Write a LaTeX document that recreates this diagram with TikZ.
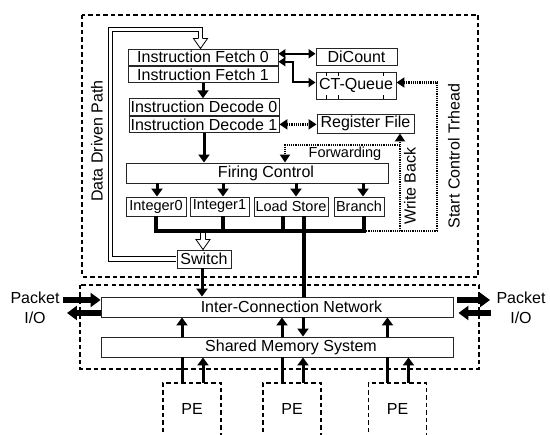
\documentclass[tikz,border=0pt]{standalone}
\usepackage{fontspec}
\setmainfont{Liberation Sans}
\usetikzlibrary{arrows.meta, positioning, calc}

\begin{document}
\begin{tikzpicture}[x=1pt, y=-1pt,
            every node/.style={font=\fontsize{16}{19}\selectfont},
            bloco/.style={draw=black!85, line width=0.9pt, fill=white, inner sep=0pt},
            unidade/.style={bloco, minimum height=19pt, font=\fontsize{14.5}{17}\selectfont},
            seta/.style={line width=3pt, -{Triangle[width=11pt,length=8pt]}},
            setafina/.style={line width=2pt, {Triangle[width=9pt,length=7pt]}-{Triangle[width=9pt,length=7pt]}},
            barra/.style={line width=3.5pt},
            gorda/.style={line width=6pt, -{Triangle[width=14pt,length=10pt]}},
            pontos/.style={line width=2.6pt, dash pattern=on 1.2pt off 1pt},
            pontoseta/.style={pontos, -{Triangle[width=10pt,length=8pt]}},
            tracejado/.style={line width=1.5pt, dash pattern=on 4.5pt off 3pt},
            duplo/.style={double, double distance=3.6pt, line width=0.8pt},
            ponta/.pic={
                \fill[white] (-7,-10) -- (0,0) -- (7,-10) -- cycle;
                \draw[line width=0.8pt, line join=miter] (-2.6,-10) -- (-7,-10) -- (0,0) -- (7,-10) -- (2.6,-10);
            }
        ]
            \useasboundingbox (0,0) rectangle (550,435);

            % Moldura do PE e do sistema compartilhado
            \draw[tracejado] (82,15) rectangle (478,277);
            \draw[tracejado] (80,285) rectangle (479,369);

            % Pipeline
            \node[bloco, minimum width=150pt, minimum height=16.5pt] (if0) at (203,57.25) {Instruction Fetch 0};
            \node[bloco, minimum width=150pt, minimum height=16.5pt, below=0pt of if0] (if1) {Instruction Fetch 1};
            \node[bloco, minimum width=150pt, minimum height=16.5pt] (id0) at (204,107) {Instruction Decode 0};
            \node[bloco, minimum width=150pt, minimum height=16.5pt, below=0pt of id0] (id1) {Instruction Decode 1};
            \node[bloco, minimum width=81pt, minimum height=17pt] (dicount) at (356.5,56.5) {DiCount};
            \node[bloco, minimum width=80pt, minimum height=27pt] (ctq) at (356,85.5) {CT-Queue};
            \node[bloco, minimum width=97pt, minimum height=19pt] (regfile) at (365.5,123.5) {Register File};
            \node[bloco, minimum width=262pt, minimum height=20pt] (firing) at (257,173) {\hspace*{18pt}Firing Control};

            % Unidades de execucao
            \node[unidade, minimum width=60pt] (int0) at (156,206.5) {Integer0};
            \node[unidade, minimum width=59pt] (int1) at (219.5,206.5) {Integer1};
            \node[unidade, minimum width=74pt] (ldst) at (291,206.5) {Load Store};
            \node[unidade, minimum width=50pt] (branch) at (359,206.5) {Branch};
            \node[bloco, minimum width=54pt, minimum height=18pt] (switch) at (204,259) {Switch};

            % Rede e memoria
            \node[bloco, minimum width=352pt, minimum height=20pt] (icn) at (277,307) {\hspace*{29pt}Inter-Connection Network};
            \node[bloco, minimum width=352pt, minimum height=20pt] (sms) at (277,347) {\hspace*{28pt}Shared Memory System};

            % Filas do CT-Queue
            \foreach \dx in {11,23,68} {
                \draw[line width=0.8pt] ([xshift=\dx pt]ctq.north west) -- ++(0,4);
                \draw[line width=0.8pt] ([xshift=\dx pt]ctq.south west) -- ++(0,-4);
            }

            % Setas do pipeline
            \draw[seta] (if1.south) -- (if1.south |- id0.north);
            \draw[seta] (id1.south) -- (id1.south |- firing.north);
            \foreach \u/\dx in {int0/1, int1/3.5, ldst/5, branch/4} {
                \coordinate (t) at ([xshift=\dx pt]\u.north);
                \draw[seta] (t |- firing.south) -- (t);
            }

            % Fetch <-> DiCount / CT-Queue
            \coordinate (f1) at ([yshift=3.5pt]if0.east);
            \coordinate (f2) at ([yshift=-4.5pt]if0.east);
            \draw[setafina] (f1) -- (f1 -| dicount.west);
            \draw[setafina] (f2) -- ++(15,0) |- ([yshift=3pt]ctq.west);
            \draw[pontos, {Triangle[width=10pt,length=8pt]}-{Triangle[width=10pt,length=8pt]}] (id1.east) -- (id1.east -| regfile.west);

            % Caminho dirigido por dados (duplo)
            \coordinate (ddL) at (110.5,29.5);
            \coordinate (ddtip) at ([xshift=-2.5pt]if0.north);
            \coordinate (ddhb) at ([yshift=10pt]ddtip);
            \draw[duplo] ([xshift=-0.5pt]switch.west) -| (ddL) -| (ddhb);
            \pic at (ddtip) {ponta};

            \coordinate (sw) at ([xshift=-1pt]switch.north);
            \coordinate (busy) at (0,231);
            \draw[duplo] (sw |- busy) -- ([yshift=10pt]sw);
            \pic at (sw) {ponta};

            % Barramento de resultados
            \foreach \u/\dx in {int0/0, int1/3.5, ldst/-8, branch/5} {
                \coordinate (t) at ([xshift=\dx pt]\u.south);
                \draw[barra] (t) -- (t |- busy);
            }
            \coordinate (bE0) at ([xshift=5pt]branch.south);
            \coordinate (busE) at (bE0 |- busy);
            \draw[barra, line cap=rect] (int0.south |- busy) -- (busE);
            \coordinate (ls) at ([xshift=13pt]ldst.south);
            \draw[barra] (ls) -- (ls |- icn.north);

            % Write back, forwarding e start control thread
            \coordinate (wb) at ([xshift=34.5pt]regfile.south);
            \coordinate (fwy) at (0,145);
            \coordinate (fwx) at ([xshift=28pt]firing.north);
            \coordinate (sctx) at (437,0);
            \draw[pontos] (busE) -- (sctx |- busy);
            \draw[pontoseta] (wb |- busy) -- (wb);
            \draw[pontoseta] (wb |- fwy) -| (fwx);
            \draw[pontoseta] (sctx |- busy) |- ([yshift=3pt]ctq.east);

            \node[font=\fontsize{14.5}{17}\selectfont] (fwd) at (345,154) {Forwarding};
            \node[rotate=90] (wback) at (410,186) {Write Back};
            \node[rotate=90] (sct) at (454,156) {Start Control Trhead};
            \node[rotate=90] (ddp) at (97,141) {Data Driven Path};

            % Switch -> rede
            \coordinate (sws) at ([xshift=-2pt]switch.south);
            \draw[seta] (sws) -- (sws |- icn.north);
            \coordinate (dn) at ([xshift=26pt]icn.south);
            \draw[seta] (dn) -- (dn |- sms.north);

            % PEs
            \foreach \n/\x in {1/192, 2/292, 3/397.5} {
                \node (pe\n) at (\x,409) {PE};
                \draw[tracejado] (\x-29,440) |- (\x+29,383) -- (\x+29,440);
                \coordinate (pa) at (\x-10,383);
                \coordinate (pb) at (\x+11,383);
                \draw[line width=3pt] (pa) -- (pa |- sms.south);
                \draw[seta] (pa |- sms.north) -- (pa |- icn.south);
                \draw[seta] (pb) -- (pb |- sms.south);
            }

            % Packet I/O
            \node[align=center, font=\fontsize{16}{20}\selectfont] (pktL) at (35,308) {Packet\\I/O};
            \node[align=center, font=\fontsize{16}{20}\selectfont] (pktR) at (521,308) {Packet\\I/O};
            \coordinate (inL) at ([yshift=7pt]icn.west);
            \coordinate (outL) at ([yshift=-6pt]icn.west);
            \coordinate (inR) at ([xshift=4pt, yshift=7pt]icn.east);
            \coordinate (outR) at ([xshift=5pt, yshift=-6pt]icn.east);
            \draw[gorda] (inL -| pktL.east) -- (inL);
            \draw[gorda, shorten >=4pt] (outL) -- (outL -| pktL.east);
            \draw[gorda, shorten >=3pt] (inR) -- (inR -| pktR.west);
            \draw[gorda] ([xshift=-2pt]outR -| pktR.west) -- (outR);
        \end{tikzpicture}
\end{document}
